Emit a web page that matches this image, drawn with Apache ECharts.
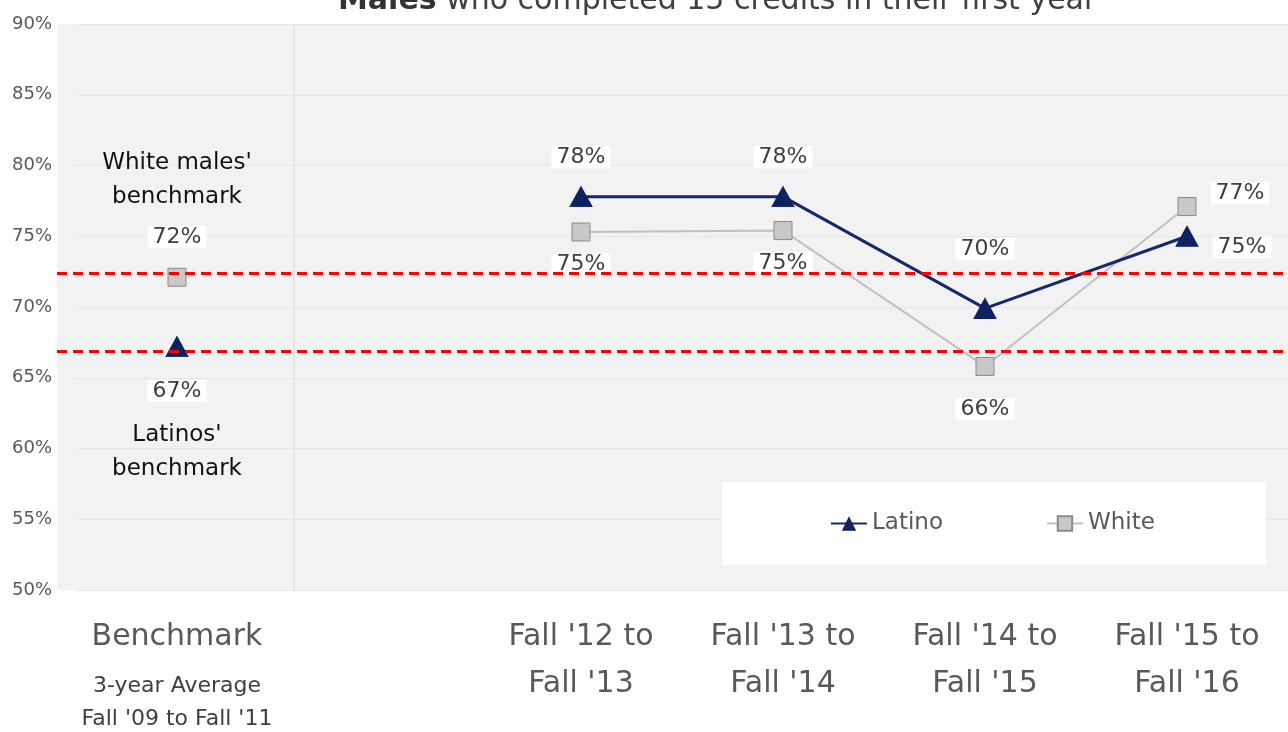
<!DOCTYPE html>
<html><head><meta charset="utf-8">
<script src="https://cdn.jsdelivr.net/npm/echarts@6/dist/echarts.min.js"></script>
<style>html,body{margin:0;padding:0;background:#fff}#c{width:1288px;height:732px}</style>
</head><body><div id="c"></div>
<script>
// ---- data ----
const categories = ["Benchmark", "", "Fall '12 to\nFall '13", "Fall '13 to\nFall '14", "Fall '14 to\nFall '15", "Fall '15 to\nFall '16"];
const benchmarkNote = ["3-year Average", "Fall '09 to Fall '11"];
const latino = [67.2, null, 77.8, 77.8, 69.9, 75.0];
const white = [72.1, null, 75.3, 75.4, 65.8, 77.1];
const benchmarkLines = [72.4, 66.9];
const yMin = 50, yMax = 90, yStep = 5;
const seriesNames = ["Latino", "White"];
const benchmarkCaptions = { Latino: ["Latinos'", "benchmark"], White: ["White males'", "benchmark"] };
const titleBold = "Males";
const titleRest = " who completed 15 credits in their first year";

// ---- label placement (styling, separate from data) ----
const latinoPlace = [
  { position: 'bottom', distance: 16 }, null,
  { position: 'top', distance: 11 }, { position: 'top', distance: 11 },
  { position: 'top', distance: 31 }, { position: 'right', distance: 14, offset: [0, 11] }
];
const whitePlace = [
  { position: 'top', distance: 13 }, null,
  { position: 'bottom', distance: 5 }, { position: 'bottom', distance: 5 },
  { position: 'bottom', distance: 15 }, { position: 'right', distance: 14, offset: [0, -13] }
];

const FONT = '"DejaVu Sans", "Open Sans", sans-serif';
const pct = v => Math.round(v) + '%';

const richLabel = {
  v: { fontSize: 22, color: '#404040', fontFamily: FONT, backgroundColor: '#ffffff', lineHeight: 36, padding: [0, 5] },
  t: { fontSize: 23, color: '#111111', fontFamily: FONT, lineHeight: 34 },
  s: { fontSize: 4, lineHeight: 9 },
  s2: { fontSize: 4, lineHeight: 5 }
};

function buildData(values, place, name) {
  return values.map((v, i) => {
    if (v == null) return null;
    const p = place[i];
    let fmt;
    if (i === 0) {
      const cap = benchmarkCaptions[name];
      if (name === 'Latino') {
        fmt = '{v|' + pct(v) + '}\n{s| }\n{t|' + cap[0] + '}\n{t|' + cap[1] + '}';
      } else {
        fmt = '{t|' + cap[0] + '}\n{t|' + cap[1] + '}\n{s2| }\n{v|' + pct(v) + '}';
      }
    } else {
      fmt = '{v|' + pct(v) + '}';
    }
    return {
      value: v,
      label: Object.assign({ show: true, formatter: fmt, rich: richLabel }, p)
    };
  });
}

const chart = echarts.init(document.getElementById('c'), null, { renderer: 'canvas' });

const option = {
  animation: false,
  backgroundColor: '#ffffff',
  textStyle: { fontFamily: FONT },
  title: {
    text: '{b|' + titleBold + '}' + titleRest,
    left: 338, top: -14, padding: 0,
    textStyle: {
      fontSize: 30, fontWeight: 'normal', color: '#404040', fontFamily: FONT,
      rich: { b: { fontSize: 30, fontWeight: 'bold', color: '#333333', fontFamily: FONT } }
    }
  },
  legend: {
    data: seriesNames,
    left: 722, top: 482,
    backgroundColor: '#ffffff',
    padding: [30, 111, 30, 108],
    itemGap: 103,
    itemWidth: 36, itemHeight: 18,
    textStyle: { fontSize: 23, color: '#595959', fontFamily: FONT }
  },
  grid: [
    { left: 76, right: 0, top: 24, bottom: 142, containLabel: false },
    { left: 57, right: 0, top: 24, bottom: 142, show: true, backgroundColor: '#f2f2f2', borderWidth: 0, z: 0 }
  ],
  xAxis: [
    {
      type: 'category', gridIndex: 0, data: categories, boundaryGap: true,
      axisLine: { show: false }, axisTick: { show: false },
      axisLabel: {
        interval: 0, margin: 24,
        formatter: (val) => {
          if (val === 'Benchmark') {
            return '{a|' + val + '}\n{s| }\n{b|' + benchmarkNote[0] + '}\n{b|' + benchmarkNote[1] + '}';
          }
          if (!val) return '';
          return val.split('\n').map(l => '{a|' + l + '}').join('\n');
        },
        rich: {
          a: { fontSize: 30, color: '#595959', fontFamily: FONT, lineHeight: 47 },
          b: { fontSize: 22, color: '#404040', fontFamily: FONT, lineHeight: 33 },
          s: { fontSize: 4, lineHeight: 9 }
        }
      }
    },
    { type: 'value', gridIndex: 1, min: 0, max: 1, show: false }
  ],
  yAxis: [
    {
      type: 'value', gridIndex: 0, min: yMin, max: yMax, interval: yStep,
      axisLine: { show: false }, axisTick: { show: false },
      axisLabel: { formatter: '{value}%', fontSize: 18, color: '#595959', fontFamily: FONT, margin: 24 },
      splitLine: { show: true, lineStyle: { color: '#e7e7e7', width: 1 } }
    },
    { type: 'value', gridIndex: 1, min: yMin, max: yMax, show: false }
  ],
  graphic: [
    { type: 'line', shape: { x1: 294, y1: 24, x2: 294, y2: 590 }, style: { stroke: '#dadada', lineWidth: 1 }, z: 1 }
  ],
  series: [
    {
      name: 'Latino', type: 'line', xAxisIndex: 0, yAxisIndex: 0, z: 4,
      data: buildData(latino, latinoPlace, 'Latino'),
      connectNulls: false,
      symbol: 'triangle', symbolSize: [22, 20],
      lineStyle: { color: '#15296b', width: 3 },
      itemStyle: { color: '#0f2260', borderColor: '#0f2260' },
      label: { show: true }
    },
    {
      name: 'White', type: 'line', xAxisIndex: 0, yAxisIndex: 0, z: 3,
      data: buildData(white, whitePlace, 'White'),
      connectNulls: false,
      symbol: 'rect', symbolSize: 18,
      lineStyle: { color: '#c0c0c0', width: 2 },
      itemStyle: { color: '#c8c8c8', borderColor: '#8a8a8a', borderWidth: 1 },
      label: { show: true }
    },
    {
      name: 'benchmarks', type: 'line', xAxisIndex: 1, yAxisIndex: 1, z: 20,
      data: [], silent: true,
      markLine: {
        silent: true, symbol: 'none', animation: false,
        label: { show: false },
        lineStyle: { color: '#ff0000', type: [10, 6], width: 3 },
        data: benchmarkLines.map(v => ({ yAxis: v }))
      }
    }
  ]
};
chart.setOption(option);
</script>
</body></html>
